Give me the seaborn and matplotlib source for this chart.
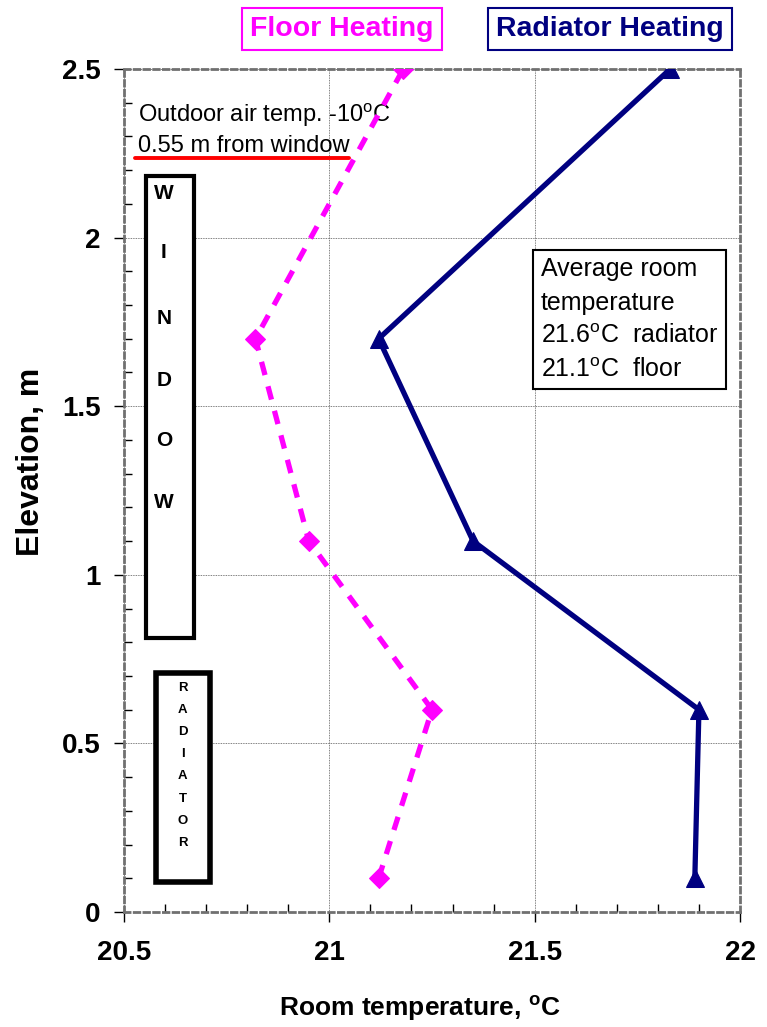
import matplotlib
matplotlib.use("Agg")
import matplotlib.pyplot as plt
import seaborn as sns
import pandas as pd
import numpy as np
from matplotlib.patches import Rectangle
from matplotlib.ticker import MultipleLocator

# ---- data ----
elevation = [0.1, 0.6, 1.1, 1.7, 2.5]
floor_temp = [21.12, 21.25, 20.95, 20.82, 21.18]
radiator_temp = [21.89, 21.90, 21.35, 21.12, 21.83]
x_ticks = [20.5, 21, 21.5, 22]
y_ticks = [0, 0.5, 1, 1.5, 2, 2.5]
x_tick_labels = ["20.5", "21", "21.5", "22"]
y_tick_labels = ["0", "0.5", "1", "1.5", "2", "2.5"]

df = pd.DataFrame({
    "Elevation": elevation * 2,
    "Temp": floor_temp + radiator_temp,
    "Series": ["Floor Heating"] * 5 + ["Radiator Heating"] * 5,
})

sns.set_theme(style="white")
REG = ["Liberation Sans", "DejaVu Sans"]
plt.rcParams["font.family"] = REG
plt.rcParams["text.color"] = "black"
plt.rcParams["axes.labelcolor"] = "black"
plt.rcParams["xtick.color"] = "black"
plt.rcParams["ytick.color"] = "black"

fig = plt.figure(figsize=(7.67, 10.27), dpi=100)
ax = fig.add_axes([0.1617, 0.112, 0.8031, 0.8208])

MAG = "#FF00FF"
NAVY = "#000080"

fl = df[df.Series == "Floor Heating"]
rd = df[df.Series == "Radiator Heating"]
sns.lineplot(data=fl, x="Temp", y="Elevation", sort=False, estimator=None,
             color=MAG, lw=3.8, marker="D", markersize=10.5, markeredgecolor=MAG,
             ax=ax, zorder=4)
ax.lines[-1].set_linestyle((0, (2.6, 2.2)))
sns.lineplot(data=rd, x="Temp", y="Elevation", sort=False, estimator=None,
             color=NAVY, lw=3.8, marker="^", markersize=13, markeredgecolor=NAVY,
             ax=ax, zorder=4)

ax.set_xlim(20.5, 22)
ax.set_ylim(0, 2.5)
ax.set_xticks(x_ticks)
ax.set_yticks(y_ticks)
ax.set_xticklabels(x_tick_labels)
ax.set_yticklabels(y_tick_labels)
ax.xaxis.set_minor_locator(MultipleLocator(0.1))
ax.yaxis.set_minor_locator(MultipleLocator(0.1))
ax.tick_params(axis="both", which="major", direction="out", length=7, width=1,
               color="black", labelsize=20, bottom=True, left=True)
ax.tick_params(axis="x", which="major", pad=13)
ax.tick_params(axis="y", which="major", pad=10)
ax.tick_params(axis="both", which="minor", direction="in", length=6, width=1,
               color="black", bottom=True, left=True)
for lab in ax.get_xticklabels() + ax.get_yticklabels():
    lab.set_fontweight("bold")

ax.grid(True, which="major", color="#555555", lw=0.6, ls=(0, (1, 1)))
for s in ax.spines.values():
    s.set_visible(True)
    s.set_color("#707070")
    s.set_linewidth(2)
    s.set_linestyle((0, (2, 1.5)))

ax.set_xlabel("Room temperature, $^{\\mathregular{o}}$C", fontsize=19,
              fontweight="bold")
ax.set_ylabel("Elevation, m", fontsize=23, fontweight="bold")
ax.xaxis.set_label_coords(0.481, -0.097)
ax.yaxis.set_label_coords(-0.127, 0.534)
if ax.get_legend():
    ax.get_legend().remove()

# annotation text
ax.text(20.533, 2.343, "Outdoor air temp. -10$^{\\mathregular{o}}$C", fontsize=17,
        va="baseline", ha="left")
ax.text(20.533, 2.254, "0.55 m from window", fontsize=17, va="baseline", ha="left")
ax.plot([20.527, 21.047], [2.236, 2.236], color="red", lw=2.8, zorder=5)

# window box
ax.add_patch(Rectangle((20.554, 0.813), 0.116, 1.37, fill=True, facecolor="white",
                       edgecolor="black", lw=3, zorder=3))
for ch, yy in zip("WINDOW", [2.13, 1.955, 1.76, 1.575, 1.398, 1.215]):
    ax.text(20.597, yy, ch, fontsize=15, fontweight="bold", ha="center",
            va="center", zorder=6)

# radiator box
ax.add_patch(Rectangle((20.578, 0.089), 0.131, 0.62, fill=True, facecolor="white",
                       edgecolor="black", lw=4, zorder=3))
rad_y = np.linspace(0.665, 0.205, 8)
for ch, yy in zip("RADIATOR", rad_y):
    ax.text(20.643, yy, ch, fontsize=9.5, fontweight="bold", ha="center",
            va="center", zorder=6)

# average temp box
ax.text(21.5146, 1.942, "Average room\ntemperature\n21.6$^{\\mathregular{o}}$C  radiator\n21.1$^{\\mathregular{o}}$C  floor",
        fontsize=18, ha="left", va="top", linespacing=1.5, zorder=6,
        bbox=dict(boxstyle="square,pad=0.3", facecolor="white", edgecolor="black", lw=1.5))

# title boxes
fig.text(0.446, 0.9715, "Floor Heating", color=MAG, fontsize=20.5, fontweight="bold",
         ha="center", va="center",
         bbox=dict(boxstyle="square,pad=0.28", facecolor="white", edgecolor=MAG, lw=1.5))
fig.text(0.795, 0.9715, "Radiator Heating", color=NAVY, fontsize=20.5, fontweight="bold",
         ha="center", va="center",
         bbox=dict(boxstyle="square,pad=0.28", facecolor="white", edgecolor=NAVY, lw=1.5))

fig.savefig("out.png", dpi=100)
